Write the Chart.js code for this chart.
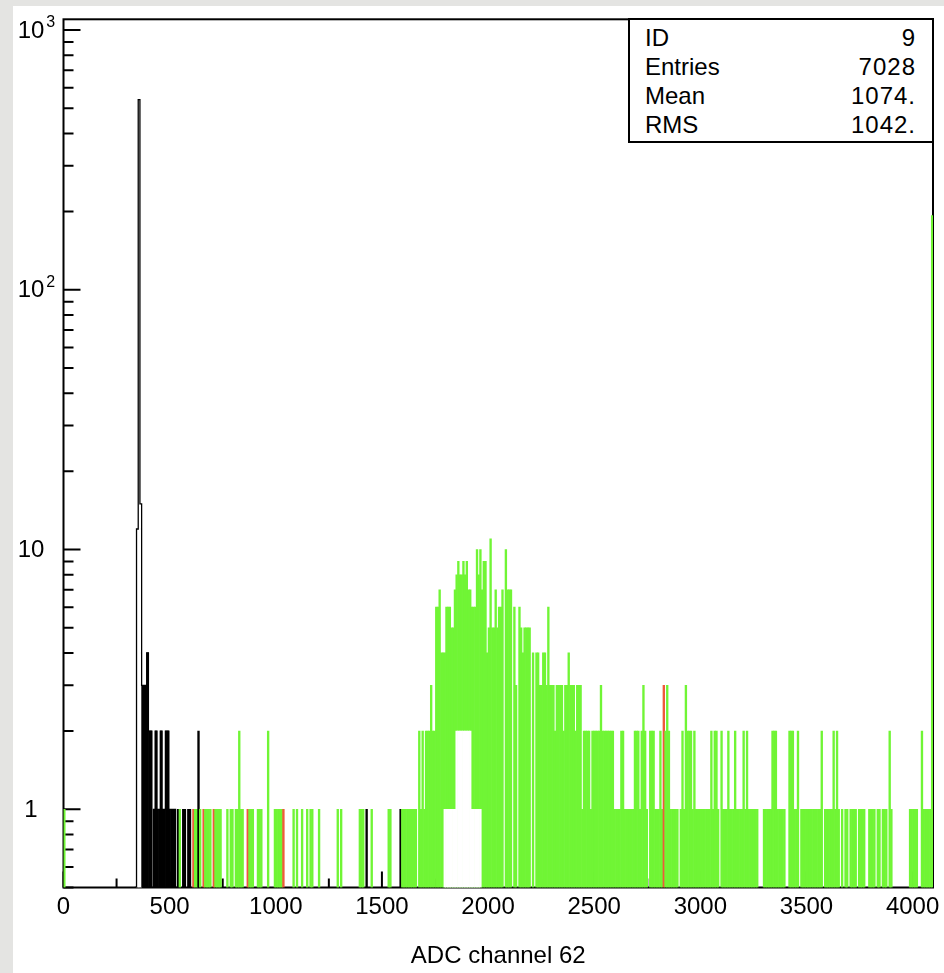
<!DOCTYPE html>
<html>
<head>
<meta charset="utf-8">
<script src="https://cdn.jsdelivr.net/npm/chart.js@4.4.0/dist/chart.umd.min.js"></script>
<style>
  html, body { margin: 0; padding: 0; }
  body { width: 944px; height: 973px; background: #e4e4e2; position: relative; overflow: hidden;
         font-family: "Liberation Sans", Arial, sans-serif; }
  #panel { position: absolute; left: 13px; top: 6px; right: 0; bottom: 0; background: #fff; }
  #c { position: absolute; left: 0; top: 0; }
  #stats { position: absolute; left: 628px; top: 18px; width: 306px; height: 125px; box-sizing: border-box;
           border: 2px solid #000; background: #fff; color: #000; font-size: 24px; }
  #stats .row { position: absolute; left: 15px; right: 16px; height: 29px; line-height: 29px; white-space: nowrap; }
  #stats .row .v { position: absolute; right: 0; top: 0; letter-spacing: 1px; }
</style>
</head>
<body>
<div id="panel"></div>
<canvas id="c" width="944" height="973"></canvas>
<div id="stats"></div>
<script>
// ---------------- data ----------------
const binWidth = 8;                 // ADC channels per bin (0 .. 4096)
const xTitle = 'ADC channel 62';
const xTickValues = [0, 500, 1000, 1500, 2000, 2500, 3000, 3500, 4000];
const xMinorTickValues = [250, 750, 1250, 1750, 2250, 2750, 3250, 3750];
const yTickValues = [1, 10, 100, 1000];
const yTickBase = ['1', '10', '10', '10'];
const yTickExp = ['', '', '2', '3'];
const yMinorTickValues = [0.5, 0.6, 0.7, 0.8, 0.9, 2, 3, 4, 5, 6, 7, 8, 9,
                          20, 30, 40, 50, 60, 70, 80, 90, 200, 300, 400, 500, 600, 700, 800, 900];
const statNames = ['ID', 'Entries', 'Mean', 'RMS'];
const statValues = ['9', '7028', '1074.', '1042.'];

// counts per bin, bins 0-127
const countsA = [
  1,0,0,0,0,0,0,0,0,0,0,0,0,0,0,0,
  0,0,0,0,0,0,0,0,0,0,0,0,0,0,0,0,
  0,0,0,0,0,0,0,0,0,0,0,12,540,15,3,3,
  3,4,2,2,0,1,2,1,1,2,1,1,2,2,1,1,
  1,1,0,1,1,0,1,1,0,1,1,0,1,1,1,2,
  1,0,1,1,1,1,1,0,1,1,1,1,1,0,0,0,
  1,0,1,1,0,1,1,2,1,1,0,0,1,1,1,1,
  0,0,1,1,1,0,0,0,2,0,0,0,1,1,1,1
];
// bins 128-255
const countsB = [
  1,1,0,0,0,0,0,1,0,1,0,0,1,0,0,1,
  0,1,1,0,0,0,1,0,0,0,0,0,0,0,0,0,
  0,1,0,1,0,0,0,0,0,0,0,0,0,0,1,1,
  1,0,1,0,0,1,0,0,0,0,0,0,0,0,0,1,
  1,0,0,0,0,0,1,1,1,1,1,1,1,1,1,1,
  0,2,1,2,1,2,2,2,3,2,2,6,6,7,4,4,
  4,6,6,6,5,5,7,8,9,8,8,9,8,9,7,7,
  6,6,6,10,8,10,7,9,9,4,5,11,5,5,7,5
];
// bins 256-383
const countsC = [
  6,6,7,0,10,7,7,7,0,6,3,0,6,5,4,5,
  5,5,5,0,4,0,4,4,3,3,4,4,3,6,3,3,
  3,2,3,3,3,3,2,3,3,4,3,3,3,2,3,3,
  3,1,2,2,2,2,1,2,2,2,2,2,3,2,2,2,
  2,2,2,2,1,1,1,1,2,2,1,1,1,1,1,1,
  2,2,2,1,2,3,2,1,0,2,2,2,1,1,1,2,
  1,3,2,3,2,1,1,1,1,1,0,1,2,1,3,2,
  2,2,1,2,1,1,1,1,1,1,1,1,1,2,1,2
];
// bins 384-511
const countsD = [
  2,1,0,2,1,1,1,2,1,1,1,2,1,1,1,1,
  2,1,2,1,1,1,1,1,1,0,0,0,1,1,1,1,
  1,2,2,2,1,1,1,1,1,0,0,2,2,2,1,1,
  2,0,1,1,1,1,1,1,1,1,1,1,1,1,2,0,
  1,1,1,1,1,2,1,2,1,0,1,0,1,1,0,1,
  1,1,1,0,1,1,1,1,0,0,1,1,1,1,0,1,
  1,0,1,1,1,0,2,1,0,0,0,0,0,0,0,0,
  0,0,1,1,1,1,1,0,0,2,1,1,1,1,1,193
];
// sub-populations (bin indices)
const blackBins = [46,47,48,49,50,51,53,54,55,56,57,58,59,60,61,62,63,64,65,67,70,71,73,74,79,178,198];
const redBins = [76, 82, 88, 108, 129, 353];
const hollowBins = [43, 44, 45];
// white overlay under the main bump
const maskStartBin = 224;
const maskLevels = [1,1,1,1,1,1,1,2,2,2,2,2,2,2,2,2,1,1,1,1,1,1];
// outlined (black step line) region
const outlineFirstBin = 42;
const outlineLastBin = 66;

// ---------------- styles ----------------
const FONT = '"Liberation Sans", Arial, sans-serif';
const GREEN = '#70f535';
const RED = '#ef5a3a';
const BLACK = '#000000';

const counts = countsA.concat(countsB, countsC, countsD);
const yMin = 0.5, yMax = 1100;

function binClass(b) {
  if (hollowBins.includes(b)) return 'hollow';
  if (blackBins.includes(b)) return 'black';
  if (redBins.includes(b)) return 'red';
  return 'green';
}
const colorOf = { hollow: '#ffffff', black: BLACK, red: RED, green: GREEN };

const mainPoints = [];
const mainColors = [];
counts.forEach((c, b) => {
  if (c > 0) {
    mainPoints.push({ x: b * binWidth + binWidth / 2, y: c });
    mainColors.push(colorOf[binClass(b)]);
  }
});

const maskPoints = maskLevels.map((v, i) => ({ x: (maskStartBin + i) * binWidth + binWidth / 2, y: v }));

const outlinePoints = [{ x: outlineFirstBin * binWidth, y: yMin }];
for (let b = outlineFirstBin; b <= outlineLastBin; b++) {
  outlinePoints.push({ x: b * binWidth, y: counts[b] > 0 ? counts[b] : yMin });
}
outlinePoints.push({ x: (outlineLastBin + 1) * binWidth, y: yMin });

// stats box
const statsEl = document.getElementById('stats');
statNames.forEach((n, i) => {
  const row = document.createElement('div');
  row.className = 'row';
  row.style.top = (3 + i * 29) + 'px';
  row.innerHTML = '<span class="k"></span><span class="v"></span>';
  row.querySelector('.k').textContent = n;
  row.querySelector('.v').textContent = statValues[i];
  statsEl.appendChild(row);
});

const frameAndTicks = {
  id: 'frameAndTicks',
  beforeDatasetsDraw(chart) {
    const { ctx, chartArea: a, scales: { x, y } } = chart;
    ctx.save();
    ctx.strokeStyle = '#000';
    ctx.lineWidth = 2;
    ctx.strokeRect(a.left, a.top, a.right - a.left, a.bottom - a.top);
    ctx.beginPath();
    yTickValues.forEach(v => { const p = y.getPixelForValue(v); ctx.moveTo(a.left, p); ctx.lineTo(a.left + 17, p); });
    yMinorTickValues.forEach(v => { const p = y.getPixelForValue(v); ctx.moveTo(a.left, p); ctx.lineTo(a.left + 10, p); });
    xTickValues.forEach(v => { const p = x.getPixelForValue(v); ctx.moveTo(p, a.bottom); ctx.lineTo(p, a.bottom - 16); });
    xMinorTickValues.forEach(v => { const p = x.getPixelForValue(v); ctx.moveTo(p, a.bottom); ctx.lineTo(p, a.bottom - 9); });
    ctx.stroke();
    ctx.restore();
  },
  afterDraw(chart) {
    // y labels with real superscript exponents
    const { ctx, scales: { y } } = chart;
    ctx.save();
    ctx.fillStyle = '#000';
    ctx.textBaseline = 'middle';
    yTickValues.forEach((v, i) => {
      const p = y.getPixelForValue(v) + 1;
      ctx.font = '24px ' + FONT;
      const w = ctx.measureText(yTickBase[i]).width;
      const cx = 31;
      ctx.textAlign = 'center';
      ctx.fillText(yTickBase[i], cx, p);
      if (yTickExp[i]) {
        ctx.font = '16px ' + FONT;
        ctx.textAlign = 'left';
        ctx.fillText(yTickExp[i], cx + w / 2 + 2, p - 8);
      }
    });
    ctx.restore();
  }
};

new Chart(document.getElementById('c'), {
  type: 'bar',
  data: {
    datasets: [
      { type: 'line', label: 'outline', data: outlinePoints, stepped: 'before', borderColor: BLACK,
        borderWidth: 1.3, pointRadius: 0, fill: false, order: 1 },
      { label: 'mask', data: maskPoints, backgroundColor: '#ffffff', borderWidth: 0,
        barPercentage: 1, categoryPercentage: 1, grouped: false, order: 2 },
      { label: 'ADC', data: mainPoints, backgroundColor: mainColors, borderWidth: 0,
        barPercentage: 1, categoryPercentage: 1, grouped: false, order: 3 }
    ]
  },
  options: {
    responsive: false,
    animation: false,
    devicePixelRatio: 1,
    layout: { padding: { top: 19.3, right: 11, left: 0, bottom: 0 } },
    plugins: { legend: { display: false }, tooltip: { enabled: false } },
    scales: {
      x: {
        type: 'linear', min: 0, max: 4096, offset: false,
        grid: { display: false, drawTicks: false }, border: { display: false },
        afterBuildTicks: s => { s.ticks = xTickValues.map(v => ({ value: v })); },
        afterFit: s => { s.height = 85.5; s.paddingLeft = 0; s.paddingRight = 0; },
        ticks: { autoSkip: false, maxRotation: 0, padding: 5, color: '#000',
                 font: { family: FONT, size: 24 }, callback: v => String(v) },
        title: { display: true, text: xTitle, color: '#000', font: { family: FONT, size: 24 },
                 padding: { top: 0, bottom: 2 } }
      },
      y: {
        type: 'logarithmic', min: yMin, max: yMax,
        grid: { display: false, drawTicks: false }, border: { display: false },
        afterBuildTicks: s => { s.ticks = yTickValues.map(v => ({ value: v })); },
        afterFit: s => { s.width = 63.5; s.paddingTop = 0; s.paddingBottom = 0; },
        ticks: { display: false }
      }
    }
  },
  plugins: [frameAndTicks]
});
</script>
</body>
</html>
